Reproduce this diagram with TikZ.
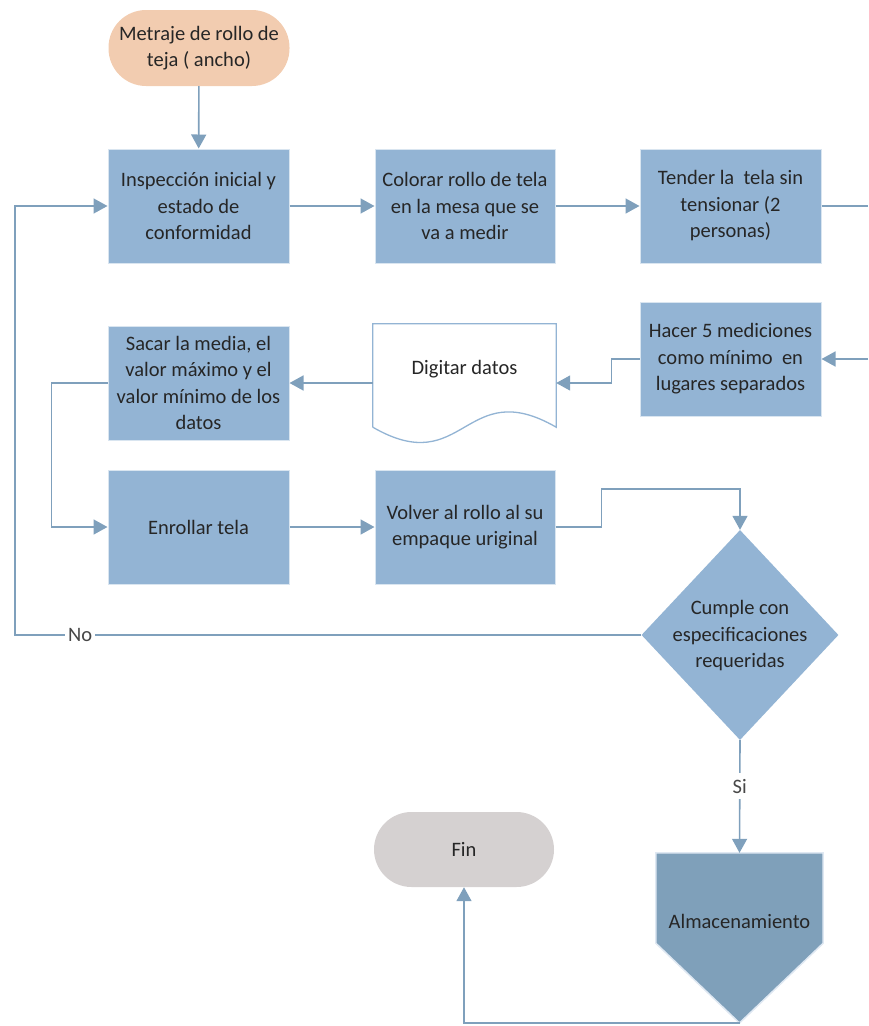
\documentclass[tikz,border=0pt]{standalone}
\usepackage{fontspec}
\setmainfont{Carlito}
\usetikzlibrary{arrows.meta,shapes.geometric,calc}
\definecolor{boxblue}{HTML}{93B4D4}
\definecolor{linkblue}{HTML}{7FA0BC}
\definecolor{storeblue}{HTML}{7FA0BA}
\definecolor{startpeach}{HTML}{F2CCB0}
\definecolor{endgrey}{HTML}{D5D1D1}
\definecolor{inktext}{HTML}{262626}
\tikzset{
  base/.style={font=\fontsize{20.5}{26.5}\selectfont, text=inktext, align=center, inner sep=0pt},
  procbox/.style={base, rectangle, fill=boxblue, draw=boxblue!35!white, line width=1pt,
    minimum width=181, minimum height=114},
  terminal/.style={base, rectangle, rounded corners=37.5pt, minimum width=181, minimum height=76},
  flow/.style={draw=linkblue, line width=1.6pt},
  arr/.style={flow, -{Triangle[width=15pt,length=14pt]}},
  lbl/.style={base, fill=white, inner xsep=3pt, inner ysep=6pt, text=inktext!85!white}
}
\begin{document}
\begin{tikzpicture}[x=1pt,y=-1pt]
\useasboundingbox (0,0) rectangle (868,1026);

% start and end terminals
\node[terminal, fill=startpeach] (start) at (199,48) {Metraje de rollo de\\teja ( ancho)};
\node[terminal, fill=endgrey, minimum width=180, minimum height=75] (fin) at (464,849.5) {Fin};

% process boxes
\node[procbox] (ins) at (198.5,206) {Inspección inicial y\\estado de\\conformidad};
\node[procbox, minimum width=180] (col) at (465,206) {Colorar rollo de tela\\en la mesa que se\\va a medir};
\node[procbox] (ten) at (730.5,206) {Tender la \ tela sin\\tensionar (2\\personas)};
\node[procbox] (hac) at (730.5,359) {Hacer 5 mediciones\\como mínimo \ en\\lugares separados};
\node[procbox] (sac) at (198.5,383) {Sacar la media, el\\valor máximo y el\\valor mínimo de los\\datos};
\node[procbox] (enr) at (198.5,527) {Enrollar tela};
\node[procbox, minimum width=180] (vol) at (465,527) {Volver al rollo al su\\empaque uriginal};

% document shape
\node[base, minimum width=183, minimum height=103] (doc) at (464.5,375.5) {};
\draw[fill=white, draw=boxblue, line width=1.3pt]
  (doc.south west) -- (doc.north west) -- (doc.north east) -- (doc.south east)
  .. controls ($(doc.south)+(0,-53)$) and ($(doc.south)+(0,53)$) .. (doc.south west);
\node[base] (doctext) at (464.5,369) {Digitar datos};

% decision
\node[diamond, fill=boxblue, draw=none, minimum width=197, minimum height=210, inner sep=0pt] (dia) at (740,635) {};
\node[base] (diatext) at (740,636) {Cumple con\\especificaciones\\requeridas};

% storage (off-page shape)
\node[base, minimum width=167, minimum height=90] (alm) at (739.5,898) {};
\coordinate (almtip) at (739.5,1023);
\draw[fill=storeblue, draw=boxblue!30!white, line width=1.5pt]
  (alm.north west) -- (alm.north east) -- (alm.south east) -- (almtip) -- (alm.south west) -- cycle;
\node[base] (almtext) at (739.5,921) {Almacenamiento};

% loose ends at the right border
\coordinate (rt1) at (868,206);
\coordinate (rt2) at (868,359);

% connectors
\draw[arr] (start) -- (ins);
\draw[arr] (ins) -- (col);
\draw[arr] (col) -- (ten);
\draw[flow] (ten.east) -- (rt1);
\draw[arr] (rt2) -- (hac.east);
\draw[arr] (hac.west) -- ++(-28,0) |- (doc.east |- sac.east);
\draw[arr] (doc.west |- sac.east) -- (sac.east);
\draw[arr] (sac.west) -- ++(-56,0) |- (enr.west);
\draw[arr] (enr) -- (vol);
\draw[arr] (vol.east) -- ++(46,0) |- ($(dia.north)+(0,-41)$) -- (dia.north);
\draw[arr] (dia.west) -- node[lbl, pos=0.896] (nolbl) {No} (15,635) |- (ins.west);
\draw[arr] (dia.south) -- node[lbl, pos=0.41] (silbl) {Si} (alm.north);
\draw[arr] (almtip) -| (fin.south);
\end{tikzpicture}
\end{document}
